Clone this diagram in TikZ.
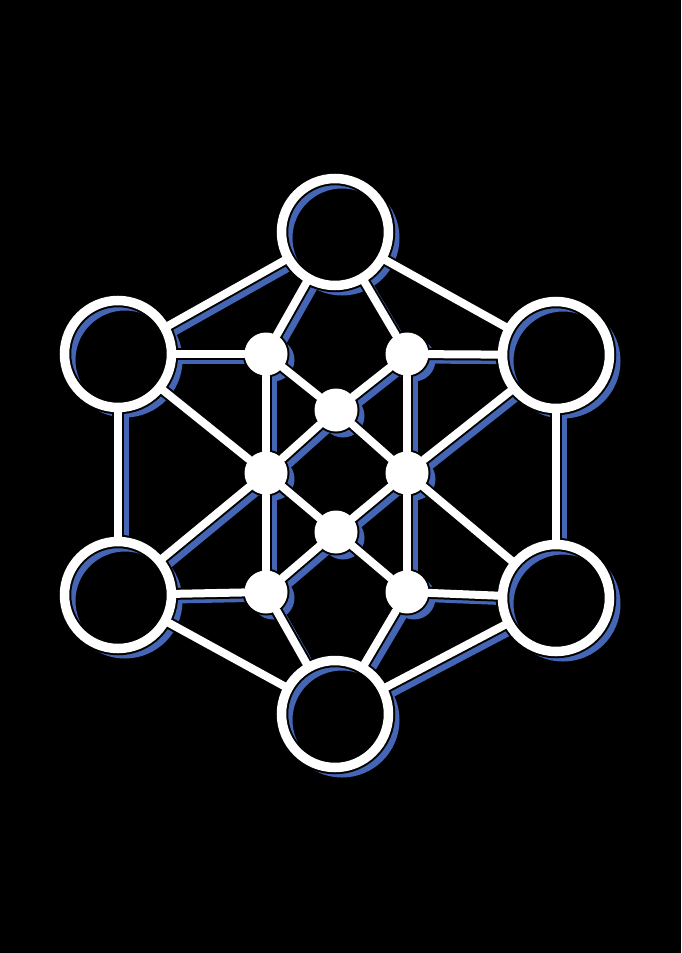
\documentclass[tikz,border=0pt]{standalone}
\usepackage{xcolor}
\definecolor{netBg}{HTML}{000000}
\definecolor{netLine}{HTML}{FFFFFF}
\definecolor{netShade}{HTML}{4565B5}
\usetikzlibrary{positioning}
\tikzset{
    hub/.style={
        circle,
        inner sep=0pt,
        minimum size=53.5pt
    },
    dot/.style={
        circle,
        inner sep=0pt,
        minimum size=21.5pt
    },
    link/.style={
        line width=4pt,
        line cap=round
    },
    ring/.style={
        line width=4.75pt
    }
}

\begin{document}
\begin{tikzpicture}[x=0.5pt, y=-0.5pt]
    % Background
    \fill[netBg] (0,0) rectangle (681,953);

    % Hubs
    \node[hub] (top)       at (335,232) {};
    \node[hub] (upleft)    at (118,354) {};
    \node[hub] (upright)   at (556,355) {};
    \node[hub] (lowleft)   at (118,595) {};
    \node[hub] (lowright)  at (556,598) {};
    \node[hub] (bottom)    at (335,714) {};

    % Inner dots
    \node[dot] (nw)  at (266,354) {};
    \node[dot] (ne)  at (407,354) {};
    \node[dot] (up)  at (336,410) {};
    \node[dot] (w)   at (266,473) {};
    \node[dot] (e)   at (407,473) {};
    \node[dot] (dn)  at (336,532) {};
    \node[dot] (sw)  at (266,592) {};
    \node[dot] (se)  at (407,592) {};

    \newcommand\netlinks{top/upleft, top/upright, upleft/lowleft, upright/lowright,
        lowleft/bottom, lowright/bottom, top/nw, top/ne, upleft/nw, upright/ne,
        nw/up, ne/up, nw/w, ne/e, w/sw, e/se, upleft/w, upright/e, lowleft/w,
        lowright/e, up/w, up/e, w/dn, e/dn, dn/sw, dn/se, lowleft/sw,
        lowright/se, sw/bottom, se/bottom}
    \newcommand\nethubs{top, upleft, upright, lowleft, lowright, bottom}
    \newcommand\netdots{nw, ne, up, w, e, dn, sw, se}

    % Shadow copy
    \begin{scope}[transform canvas={shift={(3.5pt,-3pt)}}]
        \foreach \a/\b in \netlinks
            \draw[link, netShade, line width=3.5pt] (\a) -- (\b);
        \foreach \n in \nethubs
            \draw[ring, netShade, line width=4pt] (\n.center) circle[radius=53.5];
        \foreach \n in \netdots
            \fill[netShade] (\n.center) circle[radius=21.5];
    \end{scope}

    % Black outline
    \foreach \a/\b in \netlinks
        \draw[link, netBg, line width=6pt] (\a) -- (\b);
    \foreach \n in \nethubs
        \draw[ring, netBg, line width=6.75pt] (\n.center) circle[radius=53.5];
    \foreach \n in \netdots
        \fill[netBg] (\n.center) circle[radius=23.5];

    % White net
    \foreach \a/\b in \netlinks
        \draw[link, netLine] (\a) -- (\b);
    \foreach \n in \nethubs
        \draw[ring, netLine] (\n.center) circle[radius=53.5];
    \foreach \n in \netdots
        \fill[netLine] (\n.center) circle[radius=21.5];
\end{tikzpicture}
\end{document}
